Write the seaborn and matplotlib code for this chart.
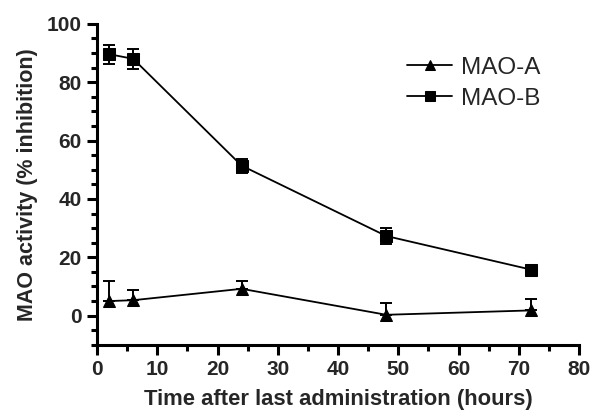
import matplotlib
matplotlib.use("Agg")
import matplotlib.pyplot as plt
import seaborn as sns
import pandas as pd
import numpy as np
from matplotlib.ticker import MultipleLocator

time_h = [2, 6, 24, 48, 72]
mao_a = [5.0, 5.3, 9.2, 0.3, 1.8]
mao_a_err = [7.0, 3.6, 2.6, 4.0, 3.8]
mao_b = [89.6, 88.0, 51.4, 27.3, 15.8]
mao_b_err = [3.3, 3.5, 2.4, 2.9, 1.0]

sns.set_style("ticks")
plt.rcParams['font.family'] = ['Liberation Sans', 'DejaVu Sans']

df = pd.DataFrame({
    "time": time_h * 2,
    "value": mao_a + mao_b,
    "enzyme": ["MAO-A"] * len(time_h) + ["MAO-B"] * len(time_h),
})

fig = plt.figure(figsize=(5.92, 4.18), dpi=100)
ax = fig.add_axes([0.164, 0.175, 0.814, 0.768])

sns.lineplot(data=df, x="time", y="value", style="enzyme",
             markers={"MAO-A": "^", "MAO-B": "s"}, dashes=False,
             color="black", linewidth=1.3, markersize=9, markeredgecolor="black",
             ax=ax, legend=True)

# MAO-A: upper error bars only
ax.errorbar(time_h, mao_a, yerr=[np.zeros(len(mao_a)), mao_a_err], fmt="none",
            ecolor="black", elinewidth=1.4, capsize=4.3, capthick=1.4)
ax.errorbar(time_h, mao_b, yerr=mao_b_err, fmt="none",
            ecolor="black", elinewidth=1.4, capsize=4.0, capthick=1.4)

ax.set_xlim(0, 80)
ax.set_ylim(-10, 100)
ax.xaxis.set_major_locator(MultipleLocator(10))
ax.xaxis.set_minor_locator(MultipleLocator(5))
ax.yaxis.set_minor_locator(MultipleLocator(5))
ax.set_yticks([0, 20, 40, 60, 80, 100])

for s in ["top", "right"]:
    ax.spines[s].set_visible(False)
for s in ["left", "bottom"]:
    ax.spines[s].set_linewidth(2.2)
    ax.spines[s].set_color("black")

ax.tick_params(axis="both", which="major", length=7, width=2.2, color="black",
               labelsize=15, pad=4)
ax.tick_params(axis="both", which="minor", length=4, width=2.2, color="black")
for lbl in ax.get_xticklabels() + ax.get_yticklabels():
    lbl.set_fontweight("bold")

ax.set_xlabel("Time after last administration (hours)", fontsize=15.8,
              fontweight="bold", labelpad=7)
ax.set_ylabel("MAO activity (% inhibition)", fontsize=15.5, fontweight="bold",
              labelpad=6)

leg = ax.legend(loc="upper left", bbox_to_anchor=(0.598, 0.966),
                frameon=False, fontsize=17.5, handlelength=1.85,
                handletextpad=0.35, labelspacing=0.37, borderpad=0.4,
                markerscale=0.75)
leg.set_title(None)

fig.savefig("out.png", dpi=100)
